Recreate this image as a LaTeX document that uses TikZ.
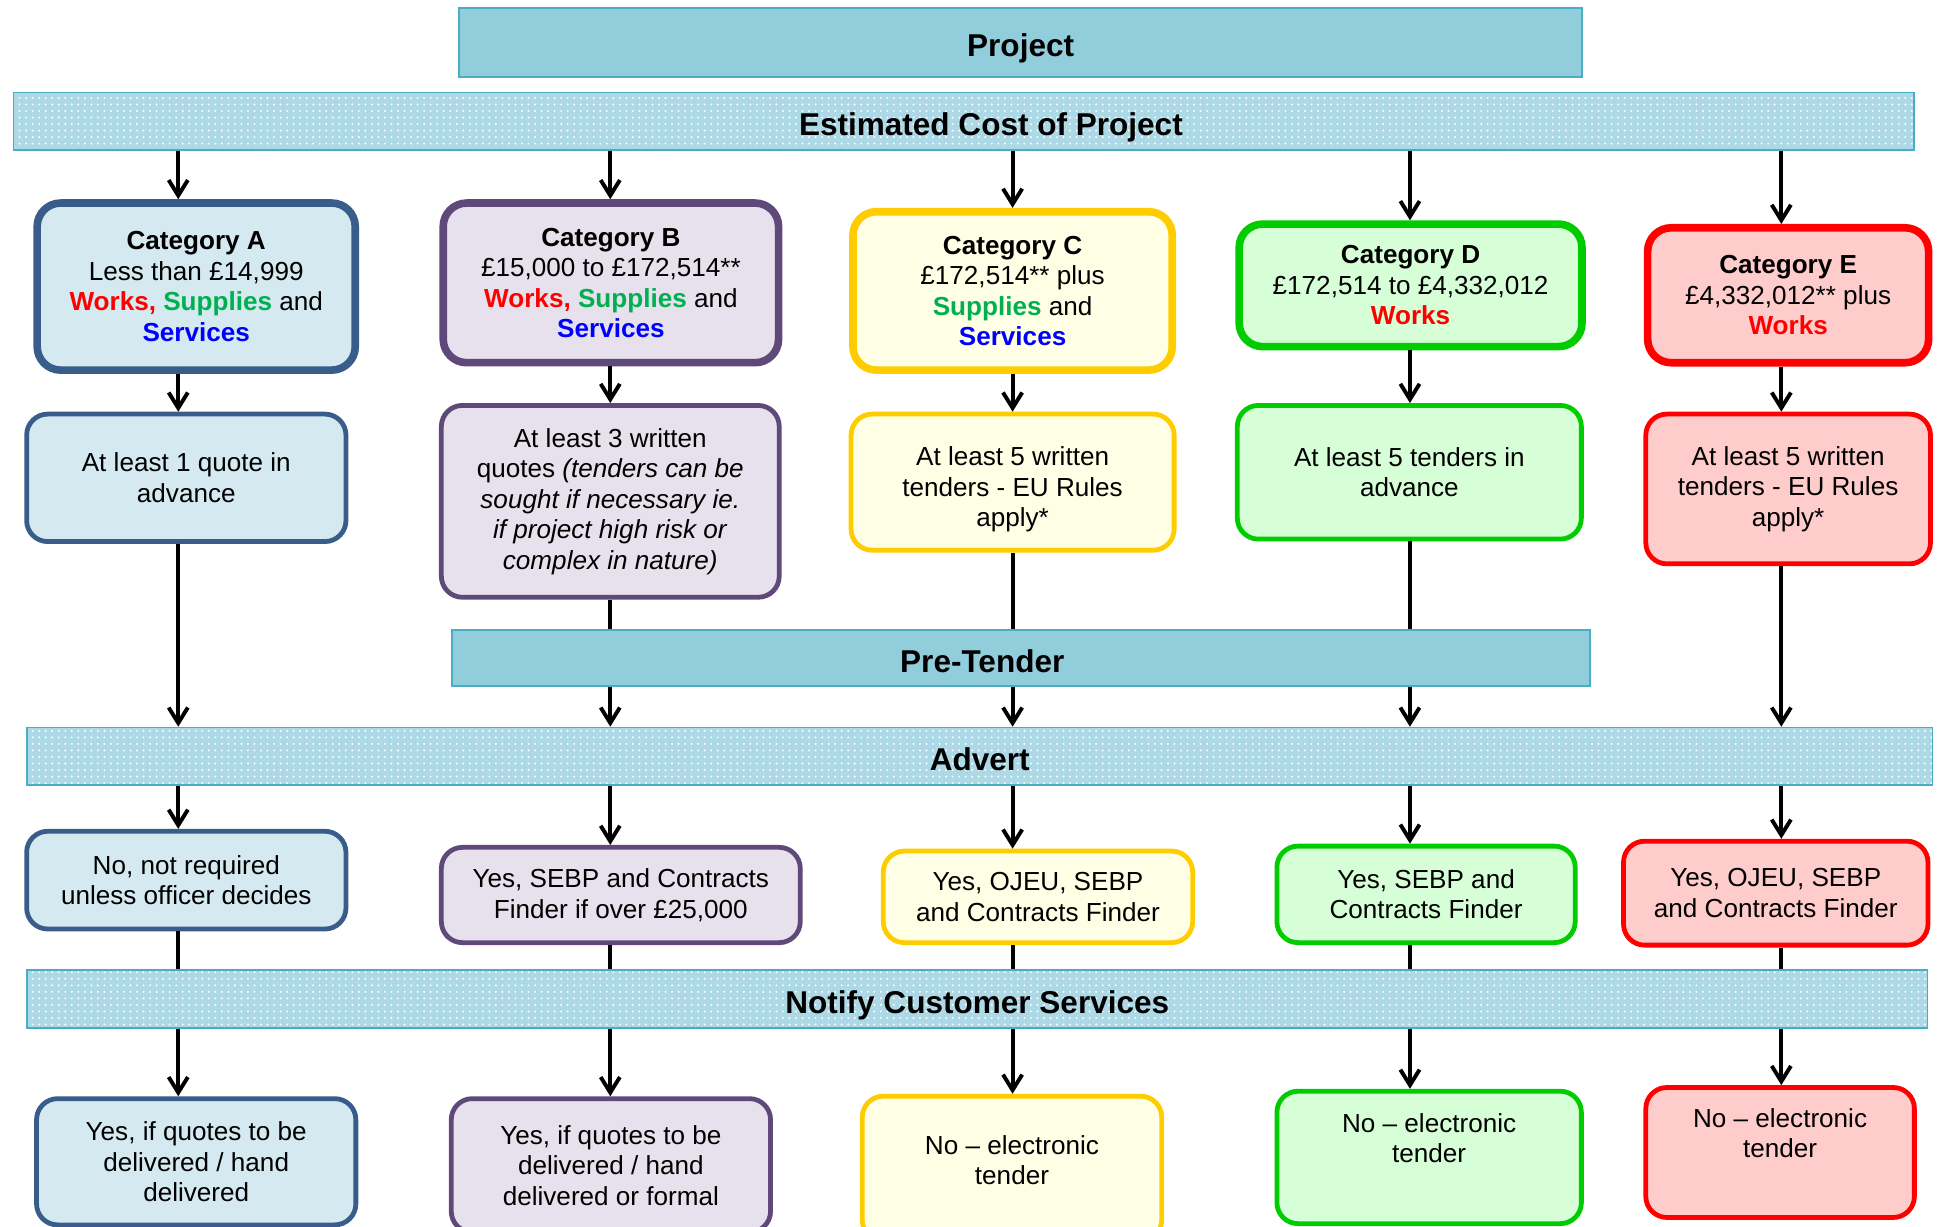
\documentclass[tikz,border=0pt]{standalone}
\usepackage{fontspec}
\setmainfont{Liberation Sans}
\usetikzlibrary{arrows.meta, patterns}
\definecolor{HeadLine}{HTML}{4BACC6}
\definecolor{HeadFill}{HTML}{92CDDC}
\definecolor{BandFill}{HTML}{ADD8E5}
\definecolor{LineA}{HTML}{385D8A}
\definecolor{FillA}{HTML}{D5E9F1}
\definecolor{LineB}{HTML}{5F497A}
\definecolor{FillB}{HTML}{E6E1EC}
\definecolor{LineC}{HTML}{FFCC00}
\definecolor{FillC}{HTML}{FFFFE6}
\definecolor{LineD}{HTML}{00CC00}
\definecolor{FillD}{HTML}{D7FFD7}
\definecolor{LineE}{HTML}{FF0000}
\definecolor{FillE}{HTML}{FFCCCC}
\definecolor{WorksRed}{HTML}{FF0000}
\definecolor{SuppGreen}{HTML}{00B050}
\definecolor{ServBlue}{HTML}{0000FF}
\newcommand{\redword}[1]{\textcolor{WorksRed}{\textbf{#1}}}
\newcommand{\greenword}[1]{\textcolor{SuppGreen}{\textbf{#1}}}
\newcommand{\blueword}[1]{\textcolor{ServBlue}{\textbf{#1}}}
\tikzset{
  headbox/.style={draw=HeadLine, line width=0.8pt, fill=HeadFill, inner sep=0pt,
    text height=13pt, text depth=0pt, font=\fontsize{14.5}{16}\selectfont\bfseries},
  bandbox/.style={draw=HeadLine, line width=0.8pt, preaction={fill=BandFill},
    pattern=dots, pattern color=white, inner sep=0pt,
    text height=13pt, text depth=0pt, font=\fontsize{14.5}{16}\selectfont\bfseries},
  catbox/.style={rounded corners=0.38cm, line width=3.5pt, align=center,
    inner sep=2pt, font=\fontsize{12}{14}\selectfont},
  stepbox/.style={rounded corners=0.34cm, line width=2.2pt, align=center,
    inner sep=2pt, font=\fontsize{12}{14}\selectfont},
  acol/.style={draw=LineA, fill=FillA},
  bcol/.style={draw=LineB, fill=FillB},
  ccol/.style={draw=LineC, fill=FillC},
  dcol/.style={draw=LineD, fill=FillD},
  ecol/.style={draw=LineE, fill=FillE},
  flow/.style={-{Straight Barb[length=2.5mm, width=3.1mm]}, line width=1.8pt},
  link/.style={line width=1.8pt},
}
\begin{document}
\begin{tikzpicture}[x=0.02cm, y=-0.02cm]
  \clip (0,0) rectangle (1568,991);
  \coordinate (xA) at (144,0); \coordinate (xB) at (493,0); \coordinate (xC) at (818,0);
  \coordinate (xD) at (1139,0); \coordinate (xE) at (1439,0);

  \node[headbox, minimum width=18.15cm, minimum height=1.11cm] (proj) at (824.5,34.5) {Project};
  \node[bandbox, minimum width=30.71cm, minimum height=0.93cm] (cost) at (778.5,98) {\hspace*{0.88cm}Estimated Cost of Project};

  \node[catbox, acol, minimum width=5.14cm, minimum height=2.70cm] (catA) at (158.5,231.5)
    {\textbf{Category A}\\Less than £14,999\\\redword{Works,} \greenword{Supplies} and\\\blueword{Services}};
  \node[catbox, bcol, minimum width=5.42cm, minimum height=2.58cm] (catB) at (493.5,228.5)
    {\textbf{Category B}\\£15,000 to £172,514**\\\redword{Works,} \greenword{Supplies} and\\\blueword{Services}};
  \node[catbox, ccol, minimum width=5.16cm, minimum height=2.56cm] (catC) at (818,235)
    {\textbf{Category C}\\£172,514** plus\\\greenword{Supplies} and\\\blueword{Services}};
  \node[catbox, dcol, minimum width=5.54cm, minimum height=1.98cm] (catD) at (1139.5,230.5)
    {\textbf{Category D}\\£172,514 to £4,332,012\\\redword{Works}};
  \node[catbox, ecol, minimum width=4.54cm, minimum height=2.18cm] (catE) at (1444.5,238.5)
    {\textbf{Category E}\\£4,332,012** plus\\\redword{Works}};

  \node[stepbox, acol, minimum width=5.16cm, minimum height=2.06cm] (quA) at (150.5,386)
    {At least 1 quote in\\advance};
  \node[stepbox, bcol, minimum width=5.46cm, minimum height=3.10cm] (quB) at (493,405)
    {At least 3 written\\quotes \textit{(tenders can be}\\\textit{sought if necessary ie.}\\\textit{if project high risk or}\\\textit{complex in nature)}};
  \node[stepbox, ccol, minimum width=5.22cm, minimum height=2.20cm] (quC) at (818,389.5)
    {\rule{0pt}{15.6pt}At least 5 written\\tenders - EU Rules\\apply*};
  \node[stepbox, dcol, minimum width=5.56cm, minimum height=2.16cm] (quD) at (1138.5,381.5)
    {At least 5 tenders in\\advance};
  \node[stepbox, ecol, minimum width=4.60cm, minimum height=2.42cm] (quE) at (1444.5,395)
    {At least 5 written\\tenders - EU Rules\\apply*};

  \node[headbox, minimum width=18.39cm, minimum height=0.91cm] (pre) at (824.5,531.5) {Pre-Tender\hspace*{1.24cm}};
  \node[bandbox, minimum width=30.79cm, minimum height=0.93cm] (adv) at (791.5,611) {Advert};

  \node[stepbox, acol, minimum width=5.16cm, minimum height=1.58cm] (advA) at (150.5,711)
    {No, not required\\unless officer decides};
  \node[stepbox, bcol, minimum width=5.80cm, minimum height=1.54cm] (advB) at (501.5,723)
    {Yes, SEBP and Contracts\\Finder if over £25,000};
  \node[stepbox, ccol, minimum width=5.00cm, minimum height=1.48cm] (advC) at (838.5,724.5)
    {Yes, OJEU, SEBP\\and Contracts Finder};
  \node[stepbox, dcol, minimum width=4.82cm, minimum height=1.56cm] (advD) at (1152,722.5)
    {Yes, SEBP and\\Contracts Finder};
  \node[stepbox, ecol, minimum width=4.92cm, minimum height=1.68cm] (advE) at (1434.5,721.5)
    {Yes, OJEU, SEBP\\and Contracts Finder};

  \node[bandbox, minimum width=30.71cm, minimum height=0.93cm] (note) at (789.5,807) {Notify Customer Services};

  \node[stepbox, acol, minimum width=5.16cm, minimum height=2.04cm] (notA) at (158.5,938.5)
    {Yes, if quotes to be\\delivered / hand\\delivered};
  \node[stepbox, bcol, minimum width=5.16cm, minimum height=2.16cm] (notB) at (493.5,941.5)
    {Yes, if quotes to be\\delivered / hand\\delivered or formal};
  \node[stepbox, ccol, minimum width=4.84cm, minimum height=2.34cm] (notC) at (817.5,944)
    {No \textendash{} electronic\\tender\\[-6pt]\mbox{}};
  \node[stepbox, dcol, minimum width=4.92cm, minimum height=2.14cm] (notD) at (1154.5,935)
    {No \textendash{} electronic\\tender\\[4pt]\mbox{}};
  \node[stepbox, ecol, minimum width=4.34cm, minimum height=2.10cm] (notE) at (1438,931)
    {No \textendash{} electronic\\tender\\[4pt]\mbox{}};

  \draw[flow] (xA |- cost.south) -- (xA |- catA.north); \draw[flow] (xA |- catA.south) -- (xA |- quA.north);
  \draw[flow] (xA |- quA.south) -- (xA |- adv.north); \draw[flow] (xA |- adv.south) -- (xA |- advA.north);
  \draw[link] (xA |- advA.south) -- (xA |- note.north); \draw[flow] (xA |- note.south) -- (xA |- notA.north);

  \draw[flow] (xB |- cost.south) -- (xB |- catB.north); \draw[flow] (xB |- catB.south) -- (xB |- quB.north);
  \draw[link] (xB |- quB.south) -- (xB |- pre.north); \draw[flow] (xB |- pre.south) -- (xB |- adv.north);
  \draw[flow] (xB |- adv.south) -- (xB |- advB.north); \draw[link] (xB |- advB.south) -- (xB |- note.north);
  \draw[flow] (xB |- note.south) -- (xB |- notB.north);

  \draw[flow] (xC |- cost.south) -- (xC |- catC.north); \draw[flow] (xC |- catC.south) -- (xC |- quC.north);
  \draw[link] (xC |- quC.south) -- (xC |- pre.north); \draw[flow] (xC |- pre.south) -- (xC |- adv.north);
  \draw[flow] (xC |- adv.south) -- (xC |- advC.north); \draw[link] (xC |- advC.south) -- (xC |- note.north);
  \draw[flow] (xC |- note.south) -- (xC |- notC.north);

  \draw[flow] (xD |- cost.south) -- (xD |- catD.north); \draw[flow] (xD |- catD.south) -- (xD |- quD.north);
  \draw[link] (xD |- quD.south) -- (xD |- pre.north); \draw[flow] (xD |- pre.south) -- (xD |- adv.north);
  \draw[flow] (xD |- adv.south) -- (xD |- advD.north); \draw[link] (xD |- advD.south) -- (xD |- note.north);
  \draw[flow] (xD |- note.south) -- (xD |- notD.north);

  \draw[flow] (xE |- cost.south) -- (xE |- catE.north); \draw[flow] (xE |- catE.south) -- (xE |- quE.north);
  \draw[flow] (xE |- quE.south) -- (xE |- adv.north); \draw[flow] (xE |- adv.south) -- (xE |- advE.north);
  \draw[link] (xE |- advE.south) -- (xE |- note.north); \draw[flow] (xE |- note.south) -- (xE |- notE.north);
\end{tikzpicture}
\end{document}
